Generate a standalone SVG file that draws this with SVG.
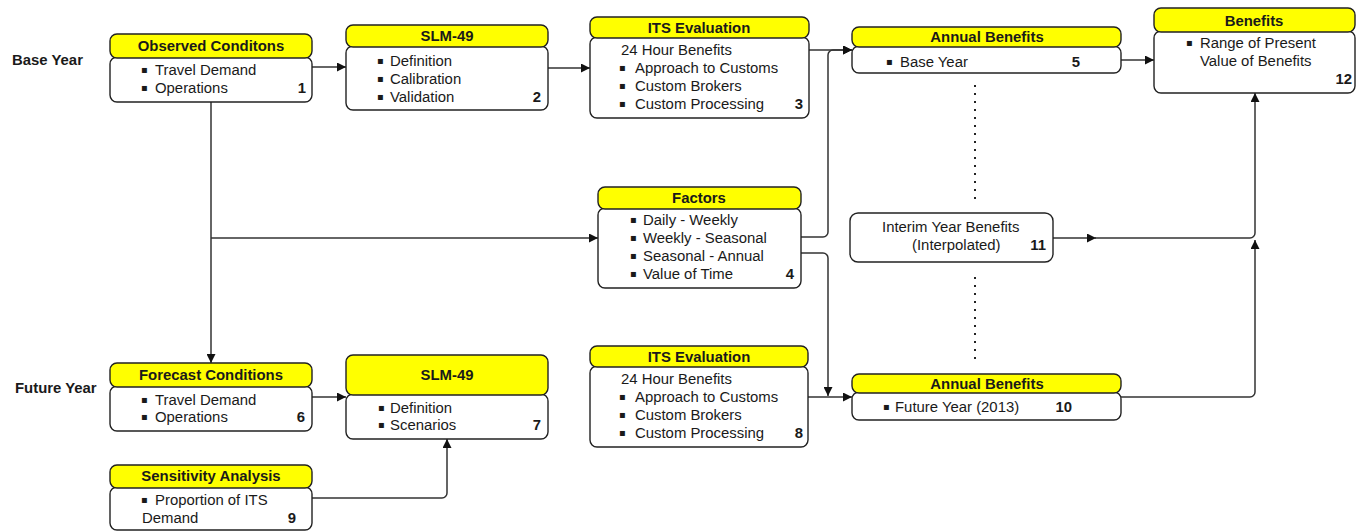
<svg xmlns="http://www.w3.org/2000/svg" width="1361" height="531" viewBox="0 0 1361 531">
<defs>
<style>
text{font-family:"Liberation Sans",Arial,sans-serif;font-size:14.9px;fill:#1a1a1a}
.b{font-weight:bold}
.m{text-anchor:middle}
.e{text-anchor:end}
.bl{font-family:"DejaVu Sans","Liberation Sans",sans-serif;font-size:10px}
.hd{fill:#ffff00;stroke:#222;stroke-width:1.4}
.bd{fill:#fff;stroke:#222;stroke-width:1.4}
.c{fill:none;stroke:#333;stroke-width:1.5}
.dot{fill:none;stroke:#222;stroke-width:2;stroke-dasharray:2 6}
</style>
<marker id="a" viewBox="0 0 10 10" refX="10" refY="5" markerWidth="9" markerHeight="9" markerUnits="userSpaceOnUse" orient="auto">
<path d="M0,0 L10,5 L0,10 z" fill="#111"/>
</marker>
</defs>

<text class="b" x="12" y="65">Base Year</text>
<text class="b" x="15" y="393">Future Year</text>

<g id="connectors">
<path class="c" d="M312,67 H346" marker-end="url(#a)"/>
<path class="c" d="M548,68 H590" marker-end="url(#a)"/>
<path class="c" d="M809,50 H852" marker-end="url(#a)"/>
<path class="c" d="M801,237 H823 a5,5 0 0 0 5,-5 V55 a5,5 0 0 1 5,-5 H852" marker-end="url(#a)"/>
<path class="c" d="M801,253 H823 a5,5 0 0 1 5,5 V396" marker-end="url(#a)"/>
<path class="c" d="M808,397 H852" marker-end="url(#a)"/>
<path class="c" d="M211,102 V363" marker-end="url(#a)"/>
<path class="c" d="M211,238 H598" marker-end="url(#a)"/>
<path class="c" d="M312,397 H346" marker-end="url(#a)"/>
<path class="c" d="M312,498 H442 a5,5 0 0 0 5,-5 V439" marker-end="url(#a)"/>
<path class="c" d="M1121,60 H1154" marker-end="url(#a)"/>
<path class="c" d="M1053,238 H1096" marker-end="url(#a)"/>
<path class="c" d="M1094,238 H1250 a5,5 0 0 0 5,-5 V93" marker-end="url(#a)"/>
<path class="c" d="M1121,397 H1250 a5,5 0 0 0 5,-5 V240" marker-end="url(#a)"/>
<path class="dot" d="M975,85 V205"/>
<path class="dot" d="M975,277 V365"/>
</g>

<g id="n1">
<rect class="bd" x="110" y="57" width="202" height="45" rx="7"/>
<rect class="hd" x="110" y="34" width="202" height="24" rx="7"/>
<text class="b m" x="211" y="51">Observed Conditons</text>
<text class="bl" x="141" y="73">▪</text><text x="155" y="75">Travel Demand</text>
<text class="bl" x="141" y="91">▪</text><text x="155" y="93">Operations</text>
<text class="b e" x="306" y="93">1</text>
</g>

<g id="n2">
<rect class="bd" x="346" y="46" width="202" height="64" rx="7"/>
<rect class="hd" x="346" y="25" width="202" height="22" rx="7"/>
<text class="b m" x="447" y="41">SLM-49</text>
<text class="bl" x="377" y="64">▪</text><text x="390" y="66">Definition</text>
<text class="bl" x="377" y="82">▪</text><text x="390" y="84">Calibration</text>
<text class="bl" x="377" y="100">▪</text><text x="390" y="102">Validation</text>
<text class="b e" x="541" y="102">2</text>
</g>

<g id="n3">
<rect class="bd" x="590" y="37" width="219" height="81" rx="7"/>
<rect class="hd" x="590" y="17" width="219" height="21" rx="7"/>
<text class="b m" x="699" y="33">ITS Evaluation</text>
<text x="621" y="55">24 Hour Benefits</text>
<text class="bl" x="619" y="71">▪</text><text x="635" y="73">Approach to Customs</text>
<text class="bl" x="619" y="89">▪</text><text x="635" y="91">Custom Brokers</text>
<text class="bl" x="619" y="107">▪</text><text x="635" y="109">Custom Processing</text>
<text class="b e" x="803" y="109">3</text>
</g>

<g id="n4">
<rect class="bd" x="598" y="208" width="203" height="80" rx="7"/>
<rect class="hd" x="598" y="187" width="203" height="22" rx="7"/>
<text class="b m" x="699" y="203">Factors</text>
<text class="bl" x="630" y="223">▪</text><text x="643" y="225">Daily - Weekly</text>
<text class="bl" x="630" y="241">▪</text><text x="643" y="243">Weekly - Seasonal</text>
<text class="bl" x="630" y="259">▪</text><text x="643" y="261">Seasonal - Annual</text>
<text class="bl" x="630" y="277">▪</text><text x="643" y="279">Value of Time</text>
<text class="b e" x="794" y="279">4</text>
</g>

<g id="n5">
<rect class="bd" x="852" y="46" width="269" height="27" rx="7"/>
<rect class="hd" x="852" y="27" width="269" height="20" rx="7"/>
<text class="b m" x="987" y="42">Annual Benefits</text>
<text class="bl" x="886" y="65">▪</text><text x="900" y="67">Base Year</text>
<text class="b e" x="1080" y="67">5</text>
</g>

<g id="n6">
<rect class="bd" x="110" y="386" width="202" height="45" rx="7"/>
<rect class="hd" x="110" y="363" width="202" height="24" rx="7"/>
<text class="b m" x="211" y="380">Forecast Conditions</text>
<text class="bl" x="141" y="403">▪</text><text x="155" y="405">Travel Demand</text>
<text class="bl" x="141" y="420">▪</text><text x="155" y="422">Operations</text>
<text class="b e" x="305" y="422">6</text>
</g>

<g id="n7">
<rect class="bd" x="346" y="394" width="202" height="45" rx="7"/>
<rect class="hd" x="346" y="355" width="202" height="40" rx="7"/>
<text class="b m" x="447" y="380">SLM-49</text>
<text class="bl" x="378" y="411">▪</text><text x="390" y="413">Definition</text>
<text class="bl" x="378" y="428">▪</text><text x="390" y="430">Scenarios</text>
<text class="b e" x="541" y="430">7</text>
</g>

<g id="n8">
<rect class="bd" x="590" y="366" width="218" height="81" rx="7"/>
<rect class="hd" x="590" y="346" width="218" height="21" rx="7"/>
<text class="b m" x="699" y="362">ITS Evaluation</text>
<text x="621" y="384">24 Hour Benefits</text>
<text class="bl" x="619" y="400">▪</text><text x="635" y="402">Approach to Customs</text>
<text class="bl" x="619" y="418">▪</text><text x="635" y="420">Custom Brokers</text>
<text class="bl" x="619" y="436">▪</text><text x="635" y="438">Custom Processing</text>
<text class="b e" x="803" y="438">8</text>
</g>

<g id="n9">
<rect class="bd" x="110" y="487" width="202" height="43" rx="7"/>
<rect class="hd" x="110" y="465" width="202" height="23" rx="7"/>
<text class="b m" x="211" y="481">Sensitivity Analysis</text>
<text class="bl" x="141" y="503">▪</text><text x="155" y="505">Proportion of ITS</text>
<text x="142" y="523">Demand</text>
<text class="b e" x="296" y="523">9</text>
</g>

<g id="n10">
<rect class="bd" x="852" y="392" width="269" height="28" rx="7"/>
<rect class="hd" x="852" y="374" width="269" height="19" rx="7"/>
<text class="b m" x="987" y="389">Annual Benefits</text>
<text class="bl" x="883" y="410">▪</text><text x="895" y="412">Future Year (2013)</text>
<text class="b e" x="1072" y="412">10</text>
</g>

<g id="n11">
<rect class="bd" x="850" y="213" width="203" height="49" rx="8"/>
<text x="882" y="232">Interim Year Benefits</text>
<text x="912" y="250">(Interpolated)</text>
<text class="b e" x="1046" y="250">11</text>
</g>

<g id="n12">
<rect class="bd" x="1154" y="31" width="201" height="62" rx="7"/>
<rect class="hd" x="1154" y="8" width="201" height="24" rx="7"/>
<text class="b m" x="1254" y="26">Benefits</text>
<text class="bl" x="1186" y="46">▪</text><text x="1200" y="48">Range of Present</text>
<text x="1200" y="66">Value of Benefits</text>
<text class="b e" x="1352" y="84">12</text>
</g>
</svg>
